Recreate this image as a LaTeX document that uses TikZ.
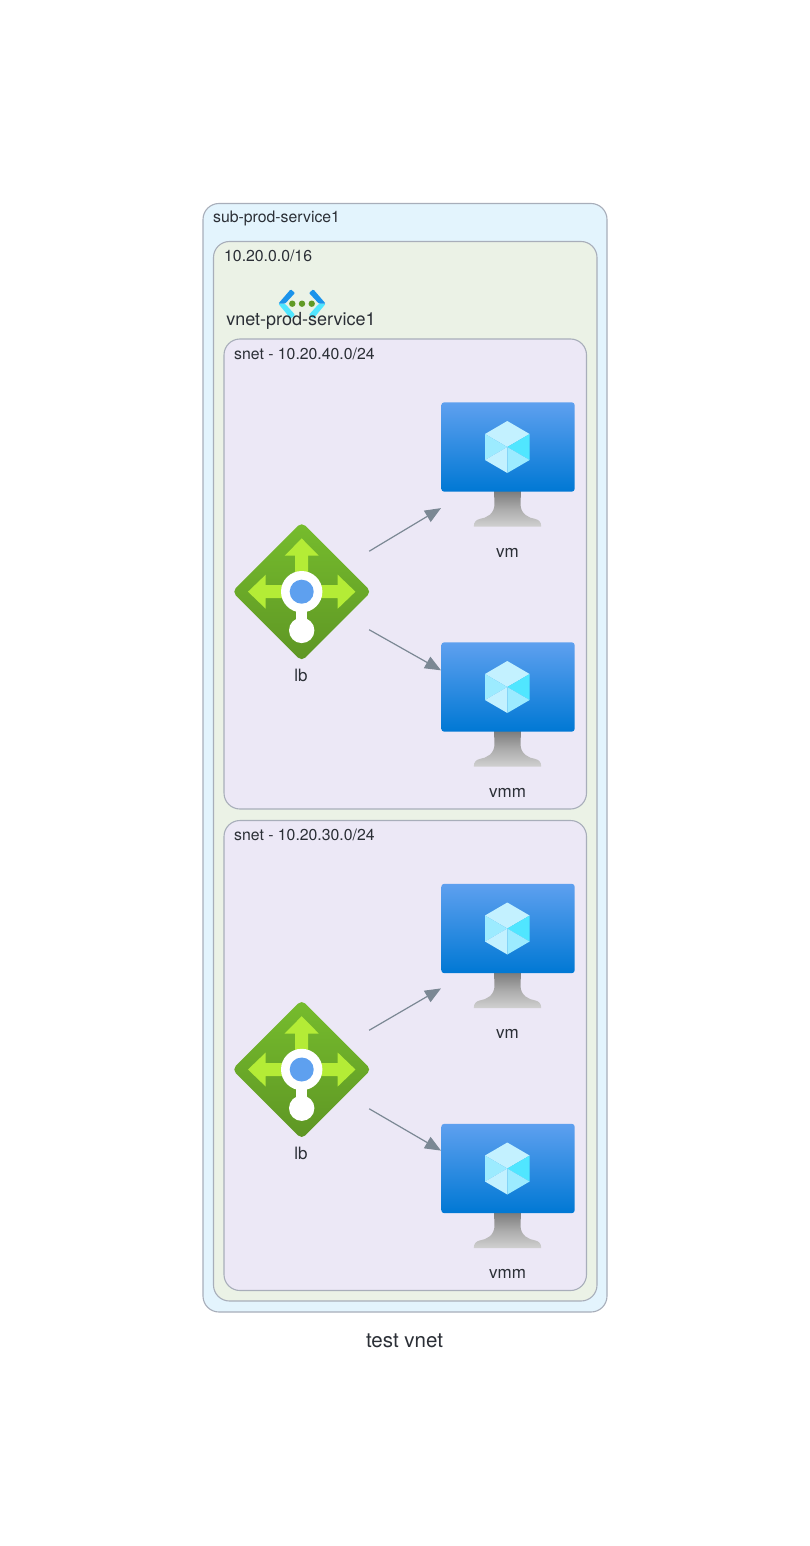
\documentclass[tikz,border=0pt]{standalone}
\usepackage{fontspec}
\setmainfont{TeX Gyre Heros}
\usetikzlibrary{arrows.meta}
\definecolor{txt}{HTML}{2B2F36}
\definecolor{edge}{HTML}{7B8894}
\definecolor{bord}{HTML}{A8AEBA}
\definecolor{lblue}{HTML}{E3F4FD}
\definecolor{lgreen}{HTML}{EBF2E6}
\definecolor{lpurple}{HTML}{ECE8F6}
\definecolor{azhi}{HTML}{5EA0EF}
\definecolor{azlo}{HTML}{0078D4}
\definecolor{azmid}{HTML}{1B93EB}
\definecolor{lbhi}{HTML}{76BC2D}
\definecolor{lblo}{HTML}{5E9624}
\definecolor{lime}{HTML}{B4EC36}
\definecolor{cubea}{HTML}{C3F1FF}
\definecolor{cubeb}{HTML}{9CEBFF}
\definecolor{cubec}{HTML}{50E6FF}
\definecolor{standhi}{HTML}{7C7C7C}
\definecolor{standmid}{HTML}{ABABAB}
\definecolor{standlo}{HTML}{D0D0D0}
\tikzset{
  x=1pt,y=-1pt,
  panel/.style={draw=bord,line width=1.1pt,rounded corners=16pt},
  boxlabel/.style={text=txt,anchor=base west,inner sep=0pt,font=\fontsize{15.8}{18}\selectfont},
  iconlabel/.style={text=txt,anchor=center,inner sep=0pt,font=\fontsize{17}{19}\selectfont},
  slot/.style={inner sep=0pt,outer sep=0pt,minimum width=#1,minimum height=134pt},
  link/.style={draw=edge,line width=1.2pt,-{Triangle[length=16pt,width=13pt]}},
}
\newcommand{\VmIcon}[5]{% name, x, y, label text, label node
  \node[slot=134pt] (#1) at (#2,#3) {};
  \begin{scope}[shift={(#2-0.5,#3)}]
    \path[top color=standhi,bottom color=standlo,middle color=standmid]
      (-13.5,23) -- (13.5,23) -- (13,36) .. controls (13,46) and (21,50) .. (28,51)
      .. controls (31.5,52) and (33.7,54) .. (33.7,58.5) -- (-33.7,58.5)
      .. controls (-33.7,54) and (-31.5,52) .. (-28,51)
      .. controls (-21,50) and (-13,46) .. (-13,36) -- cycle;
  \end{scope}
  \begin{scope}[shift={(#2,#3)}]
    \path[top color=azhi,bottom color=azlo,rounded corners=3pt]
      (-66.7,-65.7) rectangle (66.7,23.7);
    \begin{scope}[shift={(-0.7,-21)}]
      \fill[cubea] (0,-26) -- (22.3,-13) -- (0,0) -- (-22.3,-13) -- cycle;
      \fill[cubeb] (-22.3,-13) -- (0,0) -- (-22.3,13) -- cycle;
      \fill[cubec] (22.3,-13) -- (0,0) -- (22.3,13) -- cycle;
      \fill[cubea] (-22.3,13) -- (0,0) -- (0,26) -- cycle;
      \fill[cubeb] (22.3,13) -- (0,0) -- (0,26) -- cycle;
    \end{scope}
  \end{scope}
  \node[iconlabel] (#5) at (#2-0.5,#3+84.5) {#4};
}
\newcommand{\LbIcon}[4]{% name, x, y, label node
  \node[inner sep=0pt,outer sep=0pt,minimum width=135pt,minimum height=135pt] (#1) at (#2,#3) {};
  \begin{scope}[shift={(#2,#3)}]
    \path[top color=lbhi,bottom color=lblo,rounded corners=5pt]
      (0,-69.5) -- (69.5,0) -- (0,69.5) -- (-69.5,0) -- cycle;
    \fill[lime] (0,-53.3) -- (17,-36) -- (6.5,-36) -- (6.5,-6.5) -- (36,-6.5) -- (36,-17)
      -- (53.7,0) -- (36,17) -- (36,6.5) -- (-36,6.5) -- (-36,17) -- (-53.7,0)
      -- (-36,-17) -- (-36,-6.5) -- (-6.5,-6.5) -- (-6.5,-36) -- (-17,-36) -- cycle;
    \fill[white] (0,0) circle[radius=20.7pt];
    \fill[white] (-5.5,10) rectangle (5.5,35);
    \fill[white] (0,38.7) circle[radius=12.7pt];
    \fill[azhi] (0,0) circle[radius=12pt];
  \end{scope}
  \node[iconlabel] (#4) at (#2-0.7,#3+83.5) {lb};
}
\begin{document}
\begin{tikzpicture}
\useasboundingbox (0,0) rectangle (810,1546);
\fill[white] (0,0) rectangle (810,1546);
% containers
\path[panel,fill=lblue] (203,203.5) rectangle (607,1312);
\path[panel,fill=lgreen] (213.5,241.5) rectangle (597,1301);
\path[panel,fill=lpurple] (224,339) rectangle (586.5,809);
\path[panel,fill=lpurple] (224,820.5) rectangle (586.5,1290.5);
% container labels
\node[boxlabel] (t1) at (213,223) {sub-prod-service1};
\node[boxlabel] (t2) at (224,261.5) {10.20.0.0/16};
\node[boxlabel] (t3) at (234,359) {snet - 10.20.40.0/24};
\node[boxlabel] (t4) at (234,840) {snet - 10.20.30.0/24};
% vnet icon
\begin{scope}[shift={(302,303.7)}]
  \fill[cubec,rounded corners=1pt] (-23.7,0) -- (-11.3,15) -- (-7,11) -- (-17,0) -- cycle;
  \fill[cubec,rounded corners=1pt] (23.7,0) -- (11.3,15) -- (7,11) -- (17,0) -- cycle;
  \fill[azmid,rounded corners=1pt] (-23.7,0) -- (-11.3,-14.4) -- (-7,-10.7) -- (-17,0) -- cycle;
  \fill[azmid,rounded corners=1pt] (23.7,0) -- (11.3,-14.4) -- (7,-10.7) -- (17,0) -- cycle;
  \fill[lblo!90!lbhi] (-9.7,0) circle[radius=3.2pt] (0,0) circle[radius=3.2pt] (9.7,0) circle[radius=3.2pt];
\end{scope}
\node[text=txt,inner sep=0pt,font=\fontsize{18}{20}\selectfont] (vnet) at (301,320.5) {vnet-prod-service1};
% icons
\LbIcon{lba}{301.7}{591.7}{lbatxt}
\VmIcon{vma}{508}{468}{vm}{vmatxt}
\VmIcon{vmb}{508}{708}{vmm}{vmbtxt}
\LbIcon{lbb}{301.7}{1069.5}{lbbtxt}
\VmIcon{vmc}{508}{949.5}{vm}{vmctxt}
\VmIcon{vmd}{508}{1189.5}{vmm}{vmdtxt}
% connectors
\draw[link] (lba) -- (vma);
\draw[link] (lba) -- (vmb);
\draw[link] (lbb) -- (vmc);
\draw[link] (lbb) -- (vmd);
% title
\node[text=txt,inner sep=0pt,font=\fontsize{20.5}{23}\selectfont] (title) at (404.5,1340.7) {test vnet};
\end{tikzpicture}
\end{document}
